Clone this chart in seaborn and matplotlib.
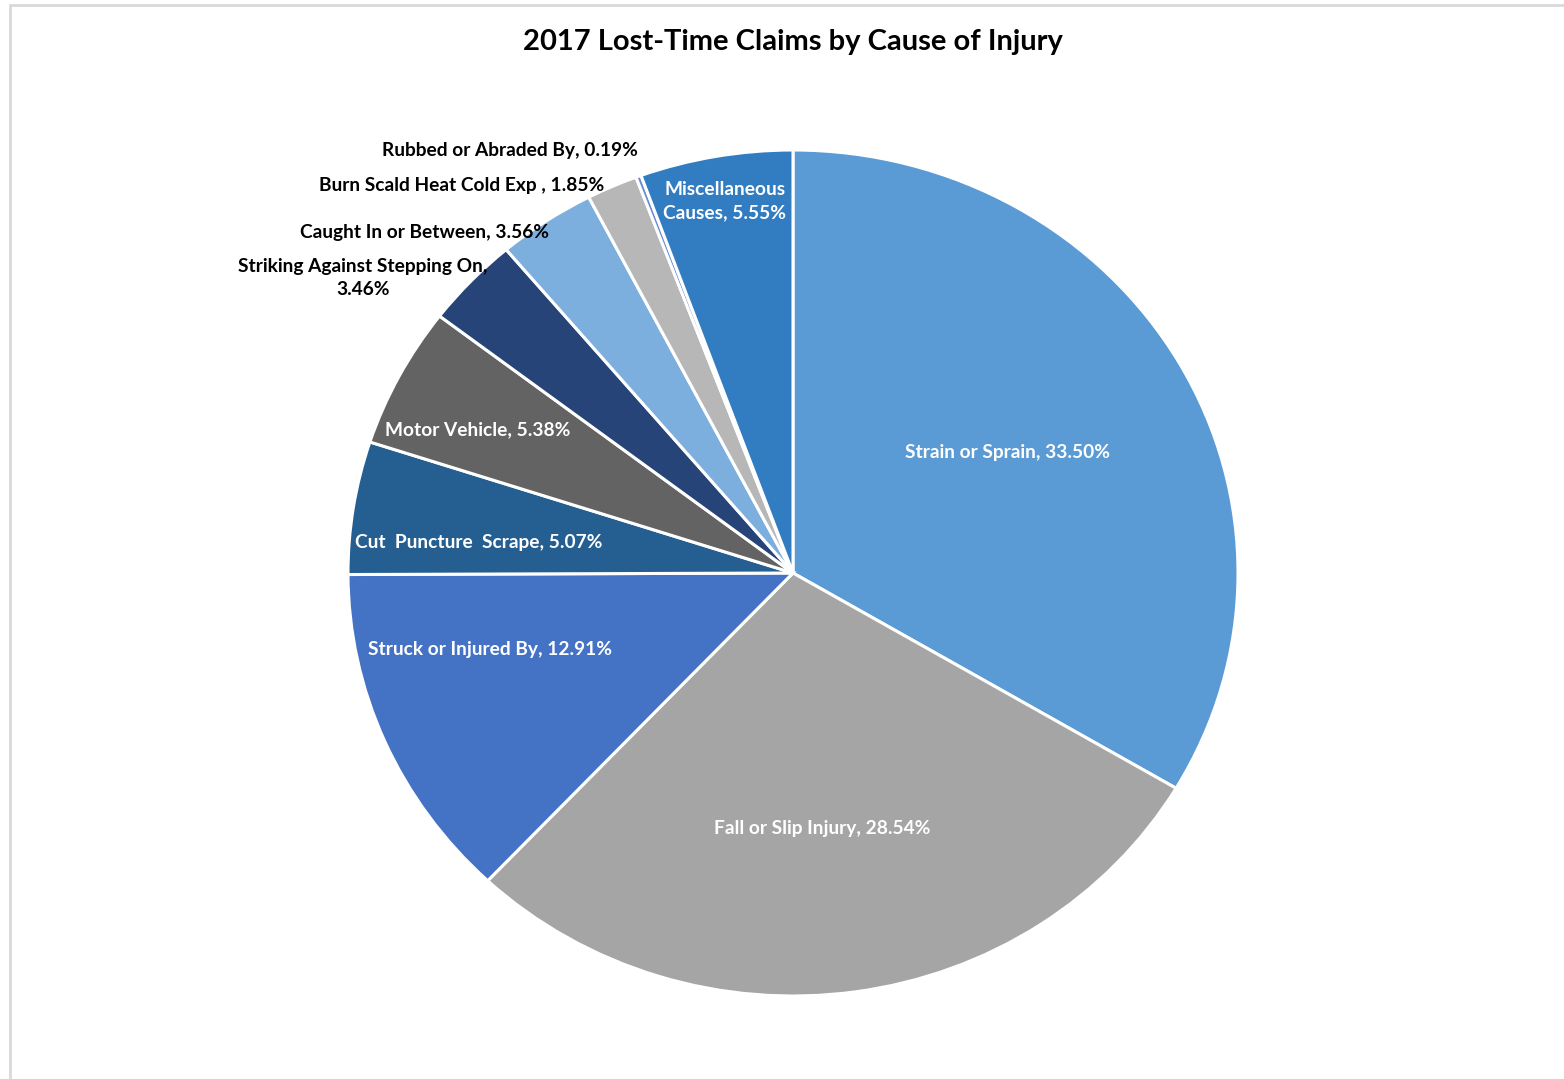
import matplotlib
matplotlib.use("Agg")
import matplotlib.pyplot as plt
import seaborn as sns
from matplotlib.patches import Rectangle

causes = ["Strain or Sprain", "Fall or Slip Injury", "Struck or Injured By",
          "Cut  Puncture  Scrape", "Motor Vehicle", "Striking Against Stepping On",
          "Caught In or Between", "Burn Scald Heat Cold Exp ", "Rubbed or Abraded By",
          "Miscellaneous Causes"]
shares = [33.50, 28.54, 12.91, 5.07, 5.38, 3.46, 3.56, 1.85, 0.19, 5.55]
colors = ["#5B9BD5", "#A5A5A5", "#4472C4", "#255E91", "#636363",
          "#264478", "#7CAFDD", "#B7B7B7", "#698ED0", "#327DC2"]

sns.set_theme(style="white")
plt.rcParams['font.family'] = ['Lato', 'DejaVu Sans']

fig = plt.figure(figsize=(15.64, 10.79), dpi=100)
fig.patch.set_facecolor("white")

# light frame like the Excel chart area
fig.patches.append(Rectangle((10 / 1564, -0.1), 1.2, 1.1 - 5 / 1079,
                             transform=fig.transFigure, fill=False,
                             edgecolor="#D9D9D9", linewidth=2))

ax = fig.add_axes([348 / 1564, 83 / 1079, 890 / 1564, 846 / 1079])
ax.pie(shares, colors=colors, startangle=90, counterclock=False,
       wedgeprops=dict(edgecolor="white", linewidth=2.2))
ax.set_aspect("auto")
ax.set_xlim(-1, 1)
ax.set_ylim(-1, 1)
ax.axis("off")

# label placement (data coords) and colour, Excel style
label_pos = [(0.481, 0.284), (0.065, -0.603), (-0.681, -0.182), (-0.706, 0.071),
             (-0.708, 0.338), (-0.966, 0.697), (-0.827, 0.806), (-0.744, 0.917),
             (-0.636, 0.998), (-0.153, 0.879)]
outside = {5, 6, 7, 8}

for i, (name, val) in enumerate(zip(causes, shares)):
    txt = f"{name}, {val:.2f}%"
    if i == 5:
        txt = f"{name},\n{val:.2f}%"
    if i == 9:
        txt = f"Miscellaneous\nCauses, {val:.2f}%"
    x, y = label_pos[i]
    ax.text(x, y, txt, ha="center", va="center", fontsize=13.8,
            fontweight="bold", linespacing=1.42,
            color="black" if i in outside else "white", clip_on=False)

fig.text(793 / 1564, 1 - 42 / 1079, "2017 Lost-Time Claims by Cause of Injury",
         ha="center", va="center", fontsize=21, fontweight="bold", color="black")

plt.savefig("out.png", dpi=100, facecolor="white")
